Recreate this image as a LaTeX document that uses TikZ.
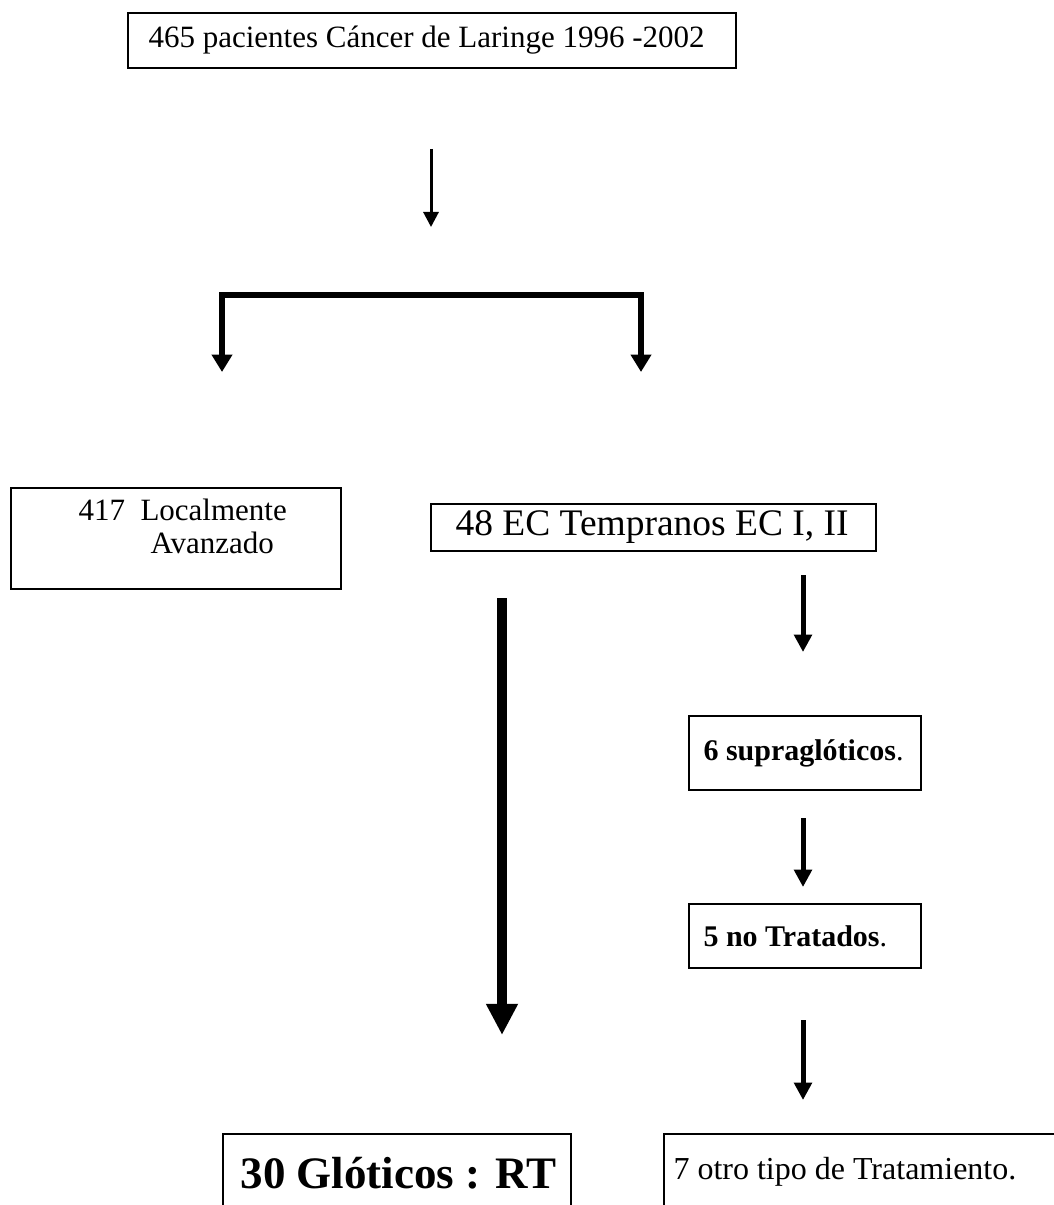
\documentclass[tikz,border=0pt]{standalone}
\usepackage{fontspec}
\setmainfont{Liberation Serif}
\usetikzlibrary{arrows.meta}
\usetikzlibrary{calc}
\usetikzlibrary{positioning}

\begin{document}
\begin{tikzpicture}[x=0.4pt,y=-0.4pt]
  \tikzstyle{box}=[draw, rectangle, line width=0.8pt, inner sep=0pt, anchor=north west]
  \tikzstyle{txt}=[inner sep=0pt, font=\fontsize{12.4}{13}\selectfont, align=left]
  \tikzstyle{flecha}=[-{Triangle[length=6pt,width=6pt]}, line width=1.2pt]
  \tikzstyle{llave}=[{Triangle[length=7pt,width=8pt]}-{Triangle[length=7pt,width=8pt]}, line width=2.6pt]
  \tikzstyle{flechamed}=[-{Triangle[length=7pt,width=7pt]}, line width=2pt]
  \tikzstyle{flechagr}=[-{Triangle[length=12.5pt,width=12pt]}, line width=4pt]

  \useasboundingbox (0,0) rectangle (1053,1205);

  % cajas
  \node[box, minimum width=243.2pt, minimum height=22pt] (P) at (127,12) {};
  \node[txt, right=8.4pt of P.west] (Pt) {465 pacientes Cáncer de Laringe 1996 -2002};

  \node[box, minimum width=132pt, minimum height=40.4pt] (L) at (10,487) {};
  \node[txt, below right=4.6pt and 27.2pt of L.north west] (Lt) {417\ \ Localmente\\\hspace*{28.8pt}Avanzado};

  \node[box, minimum width=178pt, minimum height=18.8pt] (T) at (430,503) {};
  \node[txt, font=\fontsize{15}{17}\selectfont, right=10pt of T.west] (Tt) {48 EC Tempranos EC I, II};

  \node[box, minimum width=92.8pt, minimum height=29.6pt] (S) at (688,715) {};
  \node[txt, font=\fontsize{12}{13}\selectfont, right=6pt of S.west] (St) {\textbf{6 supraglóticos}.};

  \node[box, minimum width=92.8pt, minimum height=25.6pt] (N) at (688,903) {};
  \node[txt, font=\fontsize{12}{13}\selectfont, right=6pt of N.west] (Nt) {\textbf{5 no Tratados}.};

  \node[box, minimum width=139.2pt, minimum height=36pt] (G) at (222,1133) {};
  \node[txt, font=\fontsize{18}{20}\selectfont\bfseries, below right=9.6pt and 7.2pt of G.north west] (Gt) {30 Glóticos : RT};

  \node[box, minimum width=160pt, minimum height=36pt] (O) at (663,1133) {};
  \node[txt, font=\fontsize{12.8}{14}\selectfont, below right=9.6pt and 4pt of O.north west] (Ot) {7 otro tipo de Tratamiento.};

  % puntos de las flechas
  \coordinate (a1) at (431,149);
  \coordinate (a2) at (431,227);
  \coordinate (bl) at (222,372);
  \coordinate (blc) at (222,295);
  \coordinate (brc) at (641,295);
  \coordinate (br) at (641,372);
  \coordinate (g1) at (502,598);
  \coordinate (g2) at (502,1035);
  \coordinate (m1) at (803,575);
  \coordinate (m2) at (803,652);
  \coordinate (m3) at (803,818);
  \coordinate (m4) at (803,887);
  \coordinate (m5) at (803,1020);
  \coordinate (m6) at (803,1100);

  \draw[llave] (bl) -- (blc) -- (brc) -- (br);
  \path
        (a1) edge[flecha] (a2)
        (g1) edge[flechagr] (g2)
        (m1) edge[flechamed] (m2)
        (m3) edge[flechamed] (m4)
        (m5) edge[flechamed] (m6);
\end{tikzpicture}
\end{document}
